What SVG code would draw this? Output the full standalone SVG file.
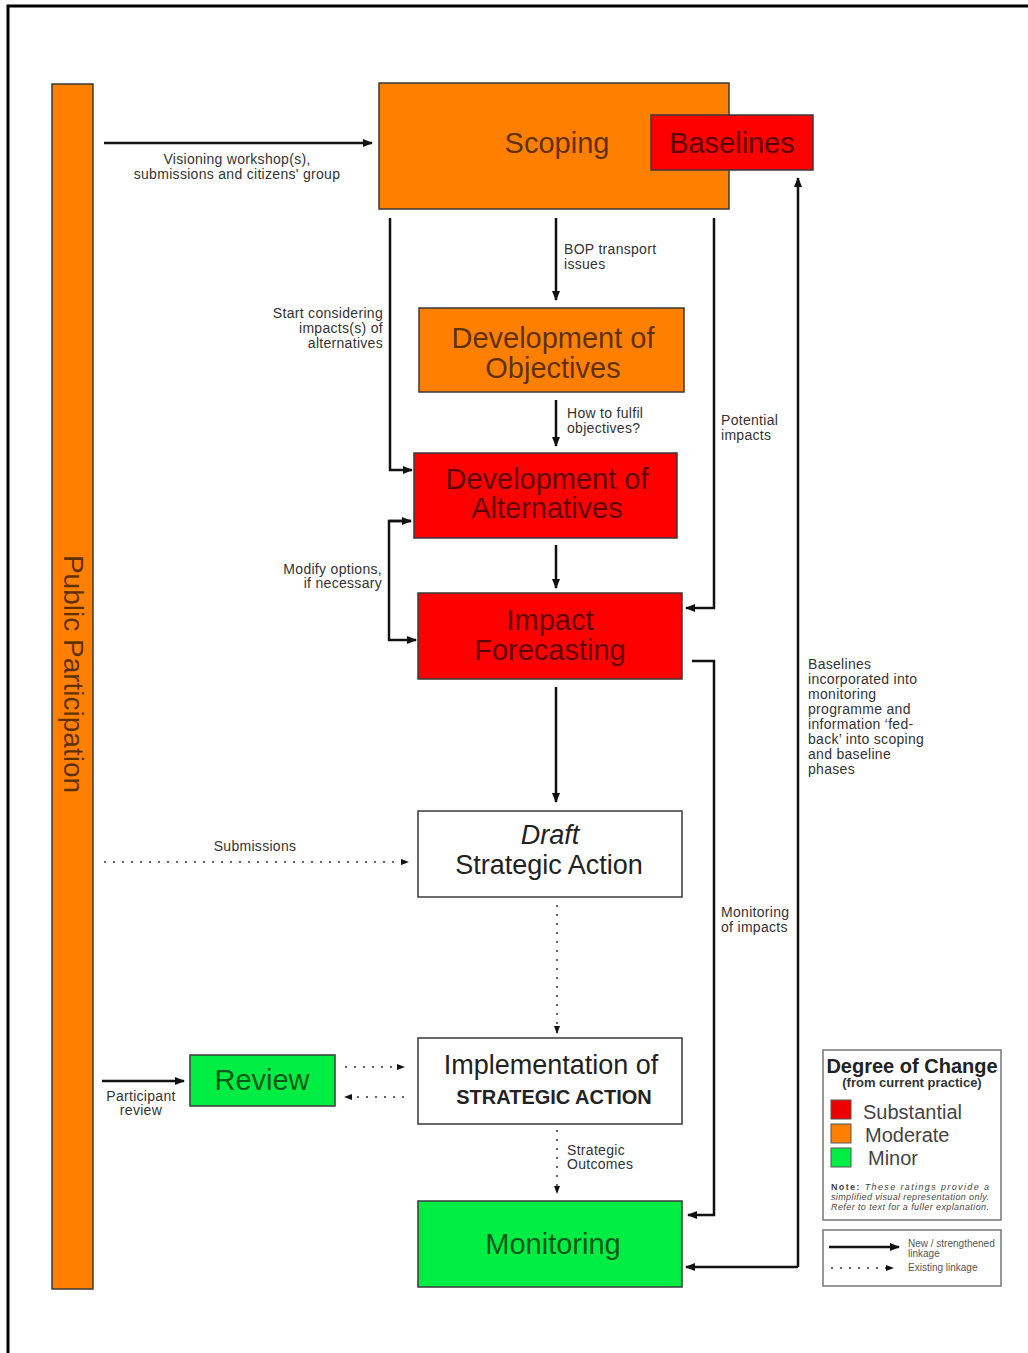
<svg xmlns="http://www.w3.org/2000/svg" width="1028" height="1353" viewBox="0 0 1028 1353">
<defs>
<marker id="ah" markerWidth="10" markerHeight="8" refX="9" refY="4" orient="auto" markerUnits="userSpaceOnUse"><path d="M0,0 L10,4 L0,8 z" fill="#111"/></marker>
<marker id="ahs" markerWidth="8" markerHeight="6" refX="7" refY="3" orient="auto" markerUnits="userSpaceOnUse"><path d="M0,0 L8,3 L0,6 z" fill="#111"/></marker>
<style>
.box{stroke:#3a3a3a;stroke-width:1.5}
.or{fill:#ff8000}.rd{fill:#ff0000}.gr{fill:#00ee44}.wh{fill:#fff}
.bt{font-family:"Liberation Sans",Arial,sans-serif;font-size:29px;text-anchor:middle;fill:#000;fill-opacity:0.65}
.wt{font-family:"Liberation Sans",Arial,sans-serif;font-size:27px;text-anchor:middle;fill:#222}
.sm{font-family:"Liberation Sans",Arial,sans-serif;font-size:14px;fill:#333;letter-spacing:0.3px}
.ln{fill:none;stroke:#111;stroke-width:2.5}
.dt{fill:none;stroke:#333;stroke-width:1.5;stroke-dasharray:2 7}
</style>
</defs>
<rect width="1028" height="1353" fill="#fff"/>
<path d="M8,1353 V6 H1028" fill="none" stroke="#000" stroke-width="3"/>

<g id="public-participation">
<rect class="box or" x="52" y="84" width="41" height="1205"/>
<text x="73" y="674" transform="rotate(90 73 674)" class="bt" style="font-size:28px" dominant-baseline="central">Public Participation</text>
</g>
<g id="scoping"><rect class="box or" x="379" y="83" width="350" height="126"/><text x="557" y="153" class="bt">Scoping</text></g>
<g id="baselines"><rect class="box rd" x="651" y="115" width="162" height="55"/><text x="732" y="153" class="bt">Baselines</text></g>
<g id="objectives"><rect class="box or" x="419" y="308" width="265" height="84"/><text x="553" y="348" class="bt">Development of</text><text x="553" y="378" class="bt">Objectives</text></g>
<g id="alternatives"><rect class="box rd" x="414" y="453" width="263" height="85"/><text x="547" y="489" class="bt">Development of</text><text x="547" y="518" class="bt">Alternatives</text></g>
<g id="impact"><rect class="box rd" x="418" y="593" width="264" height="86"/><text x="550" y="630" class="bt">Impact</text><text x="550" y="660" class="bt">Forecasting</text></g>
<g id="draft"><rect class="box wh" x="418" y="811" width="264" height="86"/><text x="550" y="844" class="wt" font-style="italic">Draft</text><text x="549" y="874" class="wt">Strategic Action</text></g>
<g id="implementation"><rect class="box wh" x="418" y="1038" width="264" height="86"/><text x="551" y="1074" class="wt">Implementation of</text><text x="554" y="1104" class="wt" style="font-size:20px;font-weight:bold">STRATEGIC ACTION</text></g>
<g id="monitoring"><rect class="box gr" x="418" y="1201" width="264" height="86"/><text x="553" y="1254" class="bt">Monitoring</text></g>
<g id="review"><rect class="box gr" x="190" y="1055" width="145" height="51"/><text x="262" y="1090" class="bt">Review</text></g>

<g id="connectors">
<line class="ln" x1="104" y1="143" x2="372" y2="143" marker-end="url(#ah)"/>
<line class="ln" x1="556" y1="218" x2="556" y2="300" marker-end="url(#ah)"/>
<polyline class="ln" points="390,218 390,470 412,470" marker-end="url(#ah)"/>
<polyline class="ln" points="714,218 714,608 686,608" marker-end="url(#ah)"/>
<line class="ln" x1="556" y1="400" x2="556" y2="446" marker-end="url(#ah)"/>
<line class="ln" x1="556" y1="545" x2="556" y2="588" marker-end="url(#ah)"/>
<polyline class="ln" points="411,521 389,521 389,640 416,640" marker-end="url(#ah)"/>
<line class="ln" x1="389" y1="521" x2="411" y2="521" marker-end="url(#ah)"/>
<line class="ln" x1="556" y1="687" x2="556" y2="802" stroke-width="3" marker-end="url(#ah)"/>
<polyline class="ln" points="692,661 714,661 714,1215 688,1215" marker-end="url(#ah)"/>
<polyline class="ln" points="798,1267 798,178" marker-end="url(#ah)"/>
<line class="ln" x1="798" y1="1267" x2="686" y2="1267" marker-end="url(#ah)"/>
<line class="dt" x1="104" y1="862" x2="408" y2="862" marker-end="url(#ahs)"/>
<line class="dt" x1="557" y1="905" x2="557" y2="1033" marker-end="url(#ahs)"/>
<line class="dt" x1="557" y1="1130" x2="557" y2="1193" marker-end="url(#ahs)"/>
<line class="ln" x1="102" y1="1081" x2="184" y2="1081" marker-end="url(#ah)"/>
<line class="dt" x1="345" y1="1067" x2="404" y2="1067" marker-end="url(#ahs)"/>
<line class="dt" x1="404" y1="1097" x2="345" y2="1097" marker-end="url(#ahs)"/>
</g>

<g id="labels">
<text class="sm" x="237" y="164" text-anchor="middle">Visioning workshop(s),</text>
<text class="sm" x="237" y="179" text-anchor="middle">submissions and citizens' group</text>
<text class="sm" x="564" y="254">BOP transport</text>
<text class="sm" x="564" y="269">issues</text>
<text class="sm" x="383" y="318" text-anchor="end">Start considering</text>
<text class="sm" x="383" y="333" text-anchor="end">impacts(s) of</text>
<text class="sm" x="383" y="348" text-anchor="end">alternatives</text>
<text class="sm" x="567" y="418">How to fulfil</text>
<text class="sm" x="567" y="433">objectives?</text>
<text class="sm" x="721" y="425">Potential</text>
<text class="sm" x="721" y="440">impacts</text>
<text class="sm" x="382" y="574" text-anchor="end">Modify options,</text>
<text class="sm" x="382" y="588" text-anchor="end">if necessary</text>
<text class="sm" x="808" y="669">Baselines</text>
<text class="sm" x="808" y="684">incorporated into</text>
<text class="sm" x="808" y="699">monitoring</text>
<text class="sm" x="808" y="714">programme and</text>
<text class="sm" x="808" y="729">information ‘fed-</text>
<text class="sm" x="808" y="744">back’ into scoping</text>
<text class="sm" x="808" y="759">and baseline</text>
<text class="sm" x="808" y="774">phases</text>
<text class="sm" x="255" y="851" text-anchor="middle">Submissions</text>
<text class="sm" x="721" y="917">Monitoring</text>
<text class="sm" x="721" y="932">of impacts</text>
<text class="sm" x="567" y="1155">Strategic</text>
<text class="sm" x="567" y="1169">Outcomes</text>
<text class="sm" x="141" y="1101" text-anchor="middle">Participant</text>
<text class="sm" x="141" y="1115" text-anchor="middle">review</text>
</g>

<g id="legend-degree">
<rect x="823" y="1050" width="178" height="170" fill="#fff" stroke="#777" stroke-width="1.5"/>
<text x="912" y="1073" text-anchor="middle" font-family="Liberation Sans, Arial, sans-serif" font-size="20" font-weight="bold" fill="#222">Degree of Change</text>
<text x="912" y="1087" text-anchor="middle" font-family="Liberation Sans, Arial, sans-serif" font-size="13" font-weight="bold" fill="#333">(from current practice)</text>
<rect x="831" y="1100" width="20" height="19" fill="#ee0000" stroke="#555"/>
<rect x="831" y="1124" width="20" height="19" fill="#ff8000" stroke="#555"/>
<rect x="831" y="1148" width="20" height="19" fill="#00ee44" stroke="#555"/>
<text x="863" y="1119" font-family="Liberation Sans, Arial, sans-serif" font-size="20" fill="#444">Substantial</text>
<text x="865" y="1142" font-family="Liberation Sans, Arial, sans-serif" font-size="20" fill="#444">Moderate</text>
<text x="868" y="1165" font-family="Liberation Sans, Arial, sans-serif" font-size="20" fill="#444">Minor</text>
<g font-family="Liberation Sans, Arial, sans-serif" font-size="9" font-style="italic" fill="#444">
<text x="831" y="1190" textLength="158" lengthAdjust="spacing"><tspan font-weight="bold" font-style="normal">Note:</tspan> These ratings provide a</text>
<text x="831" y="1200" textLength="158" lengthAdjust="spacing">simplified visual representation only.</text>
<text x="831" y="1210" textLength="158" lengthAdjust="spacing">Refer to text for a fuller explanation.</text>
</g>
</g>
<g id="legend-links">
<rect x="823" y="1230" width="178" height="56" fill="#fff" stroke="#777" stroke-width="1.5"/>
<line x1="829" y1="1247" x2="899" y2="1247" stroke="#111" stroke-width="2.5" marker-end="url(#ah)"/>
<line x1="831" y1="1268" x2="893" y2="1268" stroke="#333" stroke-width="1.5" stroke-dasharray="2 7" marker-end="url(#ahs)"/>
<g font-family="Liberation Sans, Arial, sans-serif" font-size="10" fill="#555">
<text x="908" y="1247">New / strengthened</text>
<text x="908" y="1257">linkage</text>
<text x="908" y="1271">Existing linkage</text>
</g>
</g>
</svg>
